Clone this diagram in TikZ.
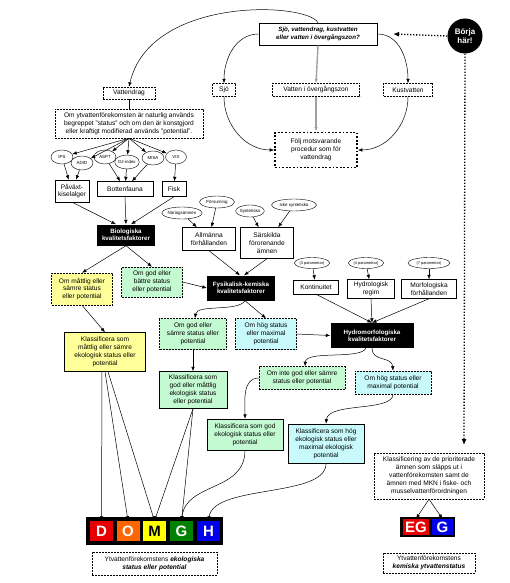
\documentclass[tikz,border=0pt]{standalone}
\usepackage{fontspec}
\setmainfont{Liberation Sans}
\usetikzlibrary{shapes.geometric,arrows.meta}
\definecolor{cyel}{RGB}{255,255,153}
\definecolor{cgrn}{RGB}{196,250,210}
\definecolor{ccyn}{RGB}{200,250,252}
\definecolor{cD}{RGB}{232,0,0}
\definecolor{cO}{RGB}{255,102,0}
\definecolor{cM}{RGB}{255,255,0}
\definecolor{cG}{RGB}{0,130,0}
\definecolor{cH}{RGB}{0,0,235}
\definecolor{cgray}{RGB}{160,160,160}
\tikzset{
  base/.style={font=\fontsize{6.6}{7.9}\selectfont, align=center, inner sep=1pt},
  dbox/.style={base, draw, dash pattern=on 2pt off 1pt, fill=white},
  sbox/.style={base, draw, fill=white},
  bbox/.style={base, fill=black, text=white, font=\fontsize{6.2}{7.4}\selectfont\bfseries},
  ell/.style={ellipse, draw, fill=white, font=\fontsize{4.4}{5}\selectfont, inner sep=0pt},
  arr/.style={-{Latex[length=4.5pt,width=3.5pt]}, line width=0.5pt},
  garr/.style={-{Latex[length=4.5pt,width=3.5pt]}, line width=1.4pt, cgray},
  dotarr/.style={-{Latex[length=6pt,width=5pt]}, line width=1.3pt, dash pattern=on 1.2pt off 1.8pt},
  letter/.style={font=\fontsize{15}{15}\selectfont\bfseries, text=white, inner sep=0pt},
}
\begin{document}
\begin{tikzpicture}[x=1pt,y=-1pt]
\useasboundingbox[fill=white] (0,0) rectangle (510,583);

% top section
\node[sbox, line width=0.8pt, minimum width=118, minimum height=22, font=\fontsize{6.2}{7.5}\selectfont\bfseries\itshape] (top) at (318,34) {Sjö, vattendrag, kustvatten\\eller vatten i övergångszon?};
\node[circle, fill=black, minimum size=35, inner sep=0pt, text=white, align=center, font=\fontsize{8}{9}\selectfont\bfseries] (borja) at (465,36) {Börja\\här!};
\coordinate (bstop) at (393,34);
\coordinate (bdown) at (464,445);
\draw[dotarr] (borja.west) -- (bstop);
\draw[dotarr] (borja.south) -- (bdown);

\node[dbox, minimum width=23, minimum height=13] (sjo) at (224,90) {Sjö};
\node[dbox, minimum width=87, minimum height=13] (voz) at (316,90) {Vatten i övergångszon};
\node[dbox, minimum width=49, minimum height=13] (kust) at (408,90) {Kustvatten};
\node[base, draw, line width=1.8pt, dash pattern=on 1.8pt off 1.8pt, minimum width=82, minimum height=35] (folj) at (316,150) {Följ motsvarande\\procedur som för\\vattendrag};
\node[dbox, minimum width=52, minimum height=12] (vdrag) at (129,93) {Vattendrag};

\draw[arr] (top.north) .. controls (306,2) and (150,-4) .. (vdrag.north);
\draw[arr] (top.west) to[out=180,in=90] (sjo.north);
\draw[arr] (top.east) to[out=0,in=90] (kust.north);
\draw[garr] (top.south) -- (voz.north);
\draw[garr] (voz.south) -- (folj.north);
\draw[arr] (sjo.south) to[out=-90,in=180] (folj.west);
\draw[arr] (kust.south) to[out=-90,in=0] (folj.east);

% biological
\node[dbox, minimum width=148, minimum height=29] (omyt) at (129,123.5) {Om ytvattenförekomsten är naturlig används\\begreppet "status" och om den är konstgjord\\eller kraftigt modifierad används "potential".};
\draw (vdrag.south) -- (omyt.north);

\node[ell, minimum width=22, minimum height=14] (ips) at (62,157) {IPS};
\node[ell, minimum width=22, minimum height=14] (adid) at (82,163) {ADID};
\node[ell, minimum width=22, minimum height=14] (aspt) at (105,157) {ASPT};
\node[ell, minimum width=24, minimum height=14] (dj) at (127,162) {DJ-index};
\node[ell, minimum width=22, minimum height=14] (misa) at (153,158) {MISA};
\node[ell, minimum width=21, minimum height=14] (vix) at (176,157) {VIX};
\foreach \e in {ips,adid,aspt,dj,misa,vix} \draw[arr] (omyt.south) -- (\e);

\node[sbox, minimum width=34, minimum height=22] (pav) at (72,191) {Påväxt-\\kiselalger};
\node[sbox, minimum width=56, minimum height=15] (botten) at (125,189) {Bottenfauna};
\node[sbox, minimum width=24, minimum height=15] (fisk) at (174,189) {Fisk};
\draw[arr] (ips) -- (pav);
\draw[arr] (adid) -- (pav);
\draw[arr] (aspt) -- (botten);
\draw[arr] (dj) -- (botten);
\draw[arr] (misa) -- (botten);
\draw[arr] (vix) -- (fisk);

\node[bbox, minimum width=58, minimum height=21] (bio) at (126,235) {Biologiska\\kvalitetsfaktorer};
\draw[arr] (pav.south) -- ([xshift=-10]bio.north);
\draw[arr] (botten.south) -- (bio.north);
\draw[arr] (fisk.south) -- ([xshift=5]bio.north);

\node[dbox, fill=cyel, minimum width=61, minimum height=32] (yel1) at (82,289) {Om måttlig eller\\sämre status\\eller potential};
\node[dbox, fill=cgrn, minimum width=61, minimum height=30] (grn1) at (152,282) {Om god eller\\bättre status\\eller potential};
\node[sbox, fill=cyel, minimum width=81, minimum height=39] (yel2) at (105,352) {Klassificera som\\måttlig eller sämre\\ekologisk status eller\\potential};
\draw[arr] (bio.south) -- (yel1.north);
\draw[arr] (bio.south) -- (grn1.north);
\draw[arr] (yel1.south) -- (yel2.north);

% physico-chemical
\node[ell, minimum width=39, minimum height=12] (nar) at (182,213) {Näringsämnen};
\node[ell, minimum width=35, minimum height=12] (fors) at (217,202) {Försurning};
\node[ell, minimum width=27, minimum height=12] (synt) at (250,211) {Syntetiska};
\node[ell, minimum width=45, minimum height=12] (icke) at (294,205) {Icke syntetiska};
\node[sbox, minimum width=53, minimum height=23] (allm) at (209,239) {Allmänna\\förhållanden};
\node[sbox, minimum width=53, minimum height=31] (sars) at (267,243) {Särskilda\\förorenande\\ämnen};
\draw[arr] (nar) -- (allm);
\draw[arr] (fors) -- (allm);
\draw[arr] (synt) -- (sars);
\draw[arr] (icke) -- (sars);

\node[bbox, minimum width=68, minimum height=25] (fys) at (241,288) {Fysikalisk-kemiska\\kvalitetsfaktorer};
\draw[arr] (allm.south) -- ([xshift=-1]fys.north);
\draw[arr] (sars.south) -- ([xshift=3]fys.north);
\draw[arr] (grn1.east) -- (fys.west);

\node[dbox, fill=cgrn, minimum width=67, minimum height=31] (grn2) at (193,334) {Om god eller\\sämre status eller\\potential};
\node[dbox, fill=ccyn, minimum width=61, minimum height=31] (cyn1) at (266,334) {Om hög status\\eller maximal\\potential};
\node[sbox, fill=cgrn, minimum width=68, minimum height=37] (grn3) at (193,390) {Klassificera som\\god eller måttlig\\ekologisk status\\eller potential};
\draw[arr] ([xshift=4]fys.south) .. controls (238,312) and (197,304) .. ([xshift=2]grn2.north);
\draw[arr] ([xshift=4]fys.south) -- (cyn1.north);
\draw[arr] (grn2.south) -- (grn3.north);

% hydromorphological
\node[ell, minimum width=29, minimum height=11, font=\fontsize{3.9}{4.5}\selectfont] (p3) at (312,263) {(3 parametrar)};
\node[ell, minimum width=33, minimum height=11, font=\fontsize{3.9}{4.5}\selectfont] (p4) at (366,263) {(4 parametrar)};
\node[ell, minimum width=42, minimum height=11, font=\fontsize{3.9}{4.5}\selectfont] (p7) at (429,263) {(7 parametrar)};
\node[sbox, minimum width=45, minimum height=14] (kont) at (316,287) {Kontinuitet};
\node[sbox, minimum width=47, minimum height=19] (hydr) at (371,289) {Hydrologisk\\regim};
\node[sbox, minimum width=55, minimum height=19] (morf) at (429,289) {Morfologiska\\förhållanden};
\draw[arr] (p3) -- (kont);
\draw[arr] (p4) -- (hydr);
\draw[arr] (p7) -- (morf);

\node[bbox, minimum width=83, minimum height=25] (hyd) at (372,335.5) {Hydromorfologiska\\kvalitetsfaktorer};
\draw[arr] (kont.south) -- (hyd.north);
\draw[arr] (hydr.south) -- (hyd.north);
\draw[arr] (morf.south) -- (hyd.north);
\draw[arr] (cyn1.east) -- (hyd.west);

\node[dbox, fill=cgrn, minimum width=86, minimum height=23] (grn4) at (302,378) {Om inte god eller sämre\\status eller potential};
\node[dbox, fill=ccyn, minimum width=76, minimum height=23] (cyn2) at (393,382.5) {Om hög status eller\\maximal potential};
\draw[arr] ([xshift=-6]hyd.south) .. controls (360,360) and (306,350) .. ([xshift=3]grn4.north);
\draw[arr] (hyd.south) .. controls (372,362) and (392,356) .. (cyn2.north);

\node[sbox, fill=cgrn, minimum width=76, minimum height=31] (grn5) at (245,434.5) {Klassificera som god\\ekologisk status eller\\potential};
\node[sbox, fill=ccyn, minimum width=76, minimum height=39] (cyn3) at (326,443.5) {Klassificera som hög\\ekologisk status eller\\maximal ekologisk\\potential};
\draw[arr] (grn4.west) to[out=180,in=90] (grn5.north);
\draw[arr] (cyn2.south) .. controls (393,412) and (328,402) .. (cyn3.north);

% DOMGH
\node[fill=black, minimum width=137, minimum height=28, inner sep=0pt] (domgh) at (154.5,531) {};
\node[letter, fill=cD, minimum width=23, minimum height=20] (D) at (101.5,531) {D};
\node[letter, fill=cO, minimum width=23, minimum height=20] (O) at (128,531) {O};
\node[letter, fill=cM, text=black, minimum width=23, minimum height=20] (M) at (154.5,531) {M};
\node[letter, fill=cG, minimum width=23, minimum height=20] (G) at (181.5,531) {G};
\node[letter, fill=cH, minimum width=23, minimum height=20] (H) at (208.5,531) {H};
\node[dbox, minimum width=125, minimum height=23] (eko) at (154.5,563.5) {Ytvattenförekomstens \textbf{\textit{ekologiska}}\\\textbf{\textit{status eller potential}}};

\draw[arr] ([xshift=-3]yel2.south) -- (D.north);
\draw[arr] ([xshift=0]yel2.south) -- (O.north);
\draw[arr] ([xshift=3]yel2.south) -- (M.north);
\draw[arr] (grn3.south) -- (M.north);
\draw[arr] (grn3.south) -- (G.north);
\draw[arr] (grn5.south) .. controls (245,492) and (186,482) .. (G.north);
\draw[arr] (cyn3.south) .. controls (327,498) and (214,484) .. (H.north);

% chemical
\node[dbox, minimum width=110, minimum height=46] (klass) at (429,476) {Klassificering av de prioriterade\\ämnen som släpps ut i\\vattenförekomsten samt de\\ämnen med MKN i fiske- och\\musselvattenförordningen};
\node[fill=black, minimum width=55, minimum height=20, inner sep=0pt] (egbox) at (427.5,527) {};
\node[letter, fill=cD, minimum width=26, minimum height=16] (EG) at (416,527) {EG};
\node[letter, fill=cH, minimum width=21, minimum height=16] (G2) at (442.5,527) {G};
\draw[arr] (klass.south) -- (EG.north);
\draw[arr] (klass.south) -- (G2.north);
\node[dbox, minimum width=92, minimum height=20] (kem) at (429,563) {Ytvattenförekomstens\\\textbf{\textit{kemiska ytvattenstatus}}};
\end{tikzpicture}
\end{document}
